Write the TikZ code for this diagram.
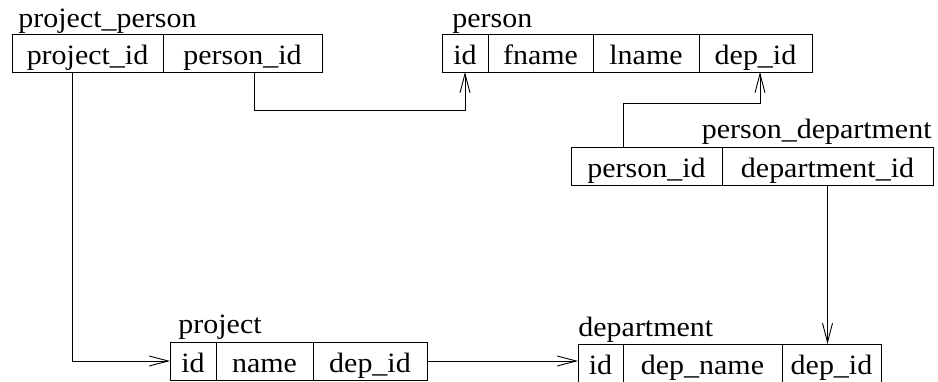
\documentclass[tikz,border=0pt]{standalone}
\usepackage{fontspec}
\setmainfont{Liberation Serif}[FakeStretch=1.07]
\usetikzlibrary{positioning,arrows.meta}
\begin{document}
\begin{tikzpicture}[x=1pt, y=-1pt, line width=0.9pt,
  every node/.style={font=\fontsize{28}{32}\selectfont},
  cell/.style={draw, minimum height=38pt, inner sep=0pt, outer sep=0pt, text height=26pt, text depth=4pt},
  tname/.style={anchor=base west, inner sep=0pt},
  fk/.style={-{Straight Barb[length=19pt,width=10pt]}}]
\useasboundingbox (0,0) rectangle (938,381);
\node[tname] at (18,27) {project\_person};
\node[cell, anchor=north west, minimum width=151pt] (pp1) at (12,34) {project\_id};
\node[cell, right=0pt of pp1, minimum width=159pt] (pp2) {person\_id};
\node[tname] at (452,27) {person};
\node[cell, anchor=north west, minimum width=46pt] (p1) at (442,34) {id};
\node[cell, right=0pt of p1, minimum width=105pt] (p2) {fname};
\node[cell, right=0pt of p2, minimum width=106pt] (p3) {lname};
\node[cell, right=0pt of p3, minimum width=113pt] (p4) {dep\_id};
\node[tname, anchor=base east] at (932,138) {person\_department};
\node[cell, anchor=north west, minimum width=151pt] (pd1) at (571,147) {person\_id};
\node[cell, right=0pt of pd1, minimum width=211pt] (pd2) {department\_id};
\node[tname] at (178,333) {project};
\node[cell, anchor=north west, minimum width=46pt] (pj1) at (170,342) {id};
\node[cell, right=0pt of pj1, minimum width=97pt] (pj2) {name};
\node[cell, right=0pt of pj2, minimum width=114pt] (pj3) {dep\_id};
\node[tname] at (578,336) {department};
\node[cell, anchor=north west, minimum width=45pt] (d1) at (578,344) {id};
\node[cell, right=0pt of d1, minimum width=159pt] (d2) {dep\_name};
\node[cell, right=0pt of d2, minimum width=99pt] (d3) {dep\_id};
\draw[fk] ([xshift=60pt]pp1.south west) |- (pj1.west);
\draw[fk] ([xshift=91pt]pp2.south west) -- ++(0,38) -| (p1.south);
\draw[fk] ([xshift=52pt]pd1.north west) -- ++(0,-44) -| ([xshift=61pt]p4.south west);
\draw[fk] (pd2.south) -- (pd2.south |- d3.north);
\draw[fk] (pj3.east) -- (pj3.east -| d1.west);
\end{tikzpicture}
\end{document}
